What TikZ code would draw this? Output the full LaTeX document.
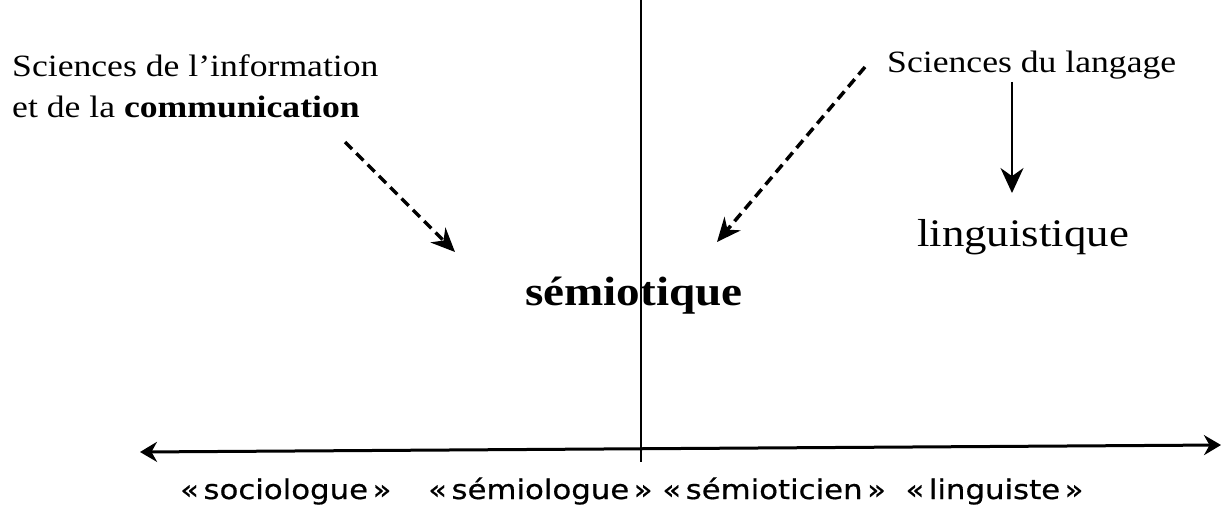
\documentclass[tikz,border=0pt]{standalone}
\usepackage{fontspec}
\setmainfont[FakeStretch=1.15]{Liberation Serif}
\newfontfamily\axisfont[FakeStretch=1.14, FakeBold=0.6]{DejaVu Sans}
\usepackage{tikz}
\usetikzlibrary{arrows.meta,positioning}

\begin{document}
\begin{tikzpicture}[
    x=1pt, y=-1pt,
    lbl/.style={inner sep=0pt, font=\fontsize{31}{41}\selectfont, align=left},
    big/.style={inner sep=0pt, font=\fontsize{39}{44}\selectfont},
    arr/.style={-{Stealth[length=25pt, width=23pt]}, line width=2pt},
    darr/.style={-{Stealth[length=24pt, width=21pt]}, dash pattern=on 10pt off 6pt, line width=3.5pt},
    axis/.style={{Stealth[length=17pt, width=20pt]}-{Stealth[length=17pt, width=20pt]}, line width=3pt}
]
\useasboundingbox (0,0) rectangle (1223,513);

% texts
\node[lbl, anchor=base west] (sic) at (12,118) {Sciences de l'information\\et de la \textbf{communication}};
\node[lbl, anchor=base west] (sdl) at (887,73) {Sciences du langage};
\node[big, anchor=base west] (ling) at (917,247) {linguistique};
\node[big, anchor=base, font=\fontsize{41}{44}\selectfont\bfseries] (semio) at (634,305) {sémiotique};

% axes
\coordinate (vtop) at (641,0);
\coordinate (vbot) at (641,462);
\coordinate (hleft) at (140,452);
\coordinate (hright) at (1221,445);
\draw[line width=2pt] (vtop) -- (vbot);
\draw[axis] (hleft) -- (hright);

% arrows
\coordinate (sicfrom) at (345,142);
\coordinate (sictip) at (455,252);
\coordinate (sdlfrom) at (865,67);
\coordinate (sdltip) at (717,242);
\coordinate (lingfrom) at (1012,82);
\coordinate (lingtip) at (1012,193);
\draw[darr] (sicfrom) -- (sictip);
\draw[darr] (sdlfrom) -- (sdltip);
\draw[arr] (lingfrom) -- (lingtip);

% labels under the axis
\node[inner sep=0pt, anchor=base west, font=\axisfont\fontsize{27}{32}\selectfont] (roles) at (180,499)
  {«\,sociologue\,» \quad «\,sémiologue\,» «\,sémioticien\,» \ «\,linguiste\,»};
\end{tikzpicture}
\end{document}
